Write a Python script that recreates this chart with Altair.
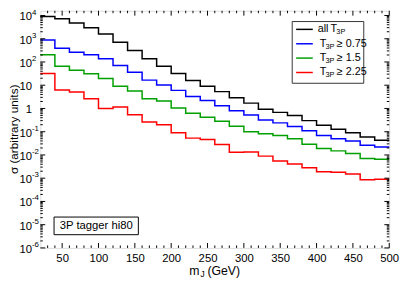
import altair as alt
import pandas as pd

# ---- data ----
edges = list(range(20, 520, 20))  # bin edges 20..500 GeV
series = ["all T3P", "T3P >= 0.75", "T3P >= 1.5", "T3P >= 2.25"]
colors = ["#000000", "#0000ff", "#00a000", "#ff0000"]

black = [9000, 7200, 4800, 2950, 1590, 700, 310, 138, 65, 32, 16, 9.0,
         5.3, 2.9, 1.7, 0.93, 0.68, 0.50, 0.30, 0.19, 0.127, 0.091, 0.059, 0.043]
blue = [890, 390, 265, 205, 138, 70, 36, 16.6, 10.2, 6.0, 3.3, 2.2,
        1.3, 0.79, 0.52, 0.32, 0.24, 0.166, 0.11, 0.069, 0.050, 0.040, 0.026, 0.022]
green = [205, 65, 44, 31, 19.5, 9.1, 5.6, 2.6, 2.1, 1.05, 0.62, 0.42,
         0.28, 0.17, 0.10, 0.081, 0.069, 0.050, 0.029, 0.019, 0.015, 0.0115, 0.0070, 0.0066]
red = [32, 6.2, 5.1, 2.6, 1.0, 1.15, 0.54, 0.26, 0.20, 0.091, 0.053, 0.046,
       0.028, 0.013, 0.0135, 0.0089, 0.0055, 0.0041, 0.0028, 0.0019, 0.0018, 0.0015, 0.00085, 0.0009]

x_major = list(range(50, 501, 50))
x_minor = [v for v in range(30, 500, 10) if v % 50]
y_exps = list(range(-6, 5))
y_major = [10.0 ** k for k in y_exps]
y_minor = [m * 10.0 ** k for k in range(-6, 4) for m in range(2, 10)]
sup_exps = [k for k in y_exps if k not in (0, 1)]

legend_rest = ["\u2265 0.75", "\u2265 1.5", "\u2265 2.25"]

# ---- build tables ----
rows = []
for name, vals in zip(series, [black, blue, green, red]):
    for i, v in enumerate(vals):
        rows.append({"s": name, "x": edges[i], "v": v})
    rows.append({"s": name, "x": edges[-1], "v": vals[-1]})
df = pd.DataFrame(rows)

W, H = 356, 242
FONT = "Liberation Sans"
xs = alt.Scale(domain=[20, 500], nice=False, zero=False)
ys = alt.Scale(type="log", domain=[1e-6, 1.6e4], nice=False)
one = pd.DataFrame({"a": [0]})

xaxis = alt.Axis(values=x_major, title=None, grid=False, ticks=False, domain=False,
                 labelFontSize=11.5, labelPadding=5, labelFont=FONT, labelColor="black",
                 labelFlush=False)
yaxis = alt.Axis(values=y_major, title=None, grid=False, ticks=False, domain=False,
                 labelFontSize=11.5, labelPadding=9, labelFont=FONT, labelColor="black",
                 labelOffset=1.5, labelExpr="datum.value == 1 ? '1' : '10'")

def X(f):
    return alt.X(f, scale=xs, axis=xaxis)

def Y(f):
    return alt.Y(f, scale=ys, axis=yaxis)

lines = alt.Chart(df).mark_line(interpolate="step-after", strokeWidth=1.5).encode(
    x=X("x:Q"), y=Y("v:Q"),
    color=alt.Color("s:N", scale=alt.Scale(domain=series, range=colors), legend=None),
    order="x:Q",
)

layers = [lines]

def yticks(vals, length):
    d = pd.DataFrame({"v": vals})
    l = alt.Chart(d).mark_rule(color="black", strokeWidth=1).encode(
        y=Y("v:Q"), x=alt.value(0), x2=alt.value(length))
    r = alt.Chart(d).mark_rule(color="black", strokeWidth=1).encode(
        y=Y("v:Q"), x=alt.value(W - length), x2=alt.value(W))
    return [l, r]

def xticks(vals, length):
    d = pd.DataFrame({"x": vals})
    b = alt.Chart(d).mark_rule(color="black", strokeWidth=1).encode(
        x=X("x:Q"), y=alt.value(H - length), y2=alt.value(H))
    t = alt.Chart(d).mark_rule(color="black", strokeWidth=1).encode(
        x=X("x:Q"), y=alt.value(0), y2=alt.value(length))
    return [b, t]

layers += yticks(y_major, 5) + yticks(y_minor, 2.5) + xticks(x_major, 5) + xticks(x_minor, 2.5)

# exponents of y labels
sup = pd.DataFrame({"v": [10.0 ** k for k in sup_exps], "t": [str(k) for k in sup_exps]})
layers.append(alt.Chart(sup).mark_text(align="left", baseline="middle", fontSize=8, dy=-3,
                                       font=FONT, color="black").encode(
    y=Y("v:Q"), x=alt.value(-8.5), text="t:N"))

# legend box
layers.append(alt.Chart(one).mark_rect(fill="white", stroke="#333333", strokeWidth=1).encode(
    x=alt.value(257), x2=alt.value(330), y=alt.value(11), y2=alt.value(74)))
row_y = [19, 33.7, 48.3, 63]
for i, c in enumerate(colors):
    layers.append(alt.Chart(one).mark_rule(color=c, strokeWidth=1.5).encode(
        x=alt.value(261), x2=alt.value(278), y=alt.value(row_y[i])))

def txt(s, x, y, size, align="left", angle=0, baseline="middle"):
    kw = dict(align=align, baseline=baseline, fontSize=size, font=FONT, color="black", text=s)
    if angle:
        kw["angle"] = angle
    return alt.Chart(one).mark_text(**kw).encode(x=alt.value(x), y=alt.value(y))

layers.append(txt("all", 283, row_y[0], 11))
layers.append(txt("T", 296, row_y[0], 11))
layers.append(txt("3P", 302, row_y[0] + 3, 7.5))
for i in range(3):
    yy = row_y[i + 1]
    layers.append(txt("T", 285, yy, 11))
    layers.append(txt("3P", 291, yy + 3, 7.5))
    layers.append(txt(legend_rest[i], 302.5, yy, 11))

# annotation box
layers.append(alt.Chart(one).mark_rect(fill="white", stroke="black", strokeWidth=1).encode(
    x=alt.value(14), x2=alt.value(100), y=alt.value(210.5), y2=alt.value(228.5)))
layers.append(txt("3P tagger hi80", 57, 219.5, 11.5, align="center"))

# axis titles
layers.append(txt("m", 152, 266, 12.5))
layers.append(txt("J", 163.5, 268.5, 8.5))
layers.append(txt("(GeV)", 170.5, 266, 12.5))
layers.append(txt("\u03c3 (arbitrary units)", -27, 121, 12, align="center", angle=270))

chart = alt.layer(*layers).properties(
    width=W, height=H,
    padding={"left": 33, "top": 0, "right": 12, "bottom": 34},
    autosize=alt.AutoSizeParams(type="none"),
).configure_view(stroke="black", strokeWidth=1).configure(background="white")

chart.save("out.html", embed_options={"renderer": "svg", "actions": False})
